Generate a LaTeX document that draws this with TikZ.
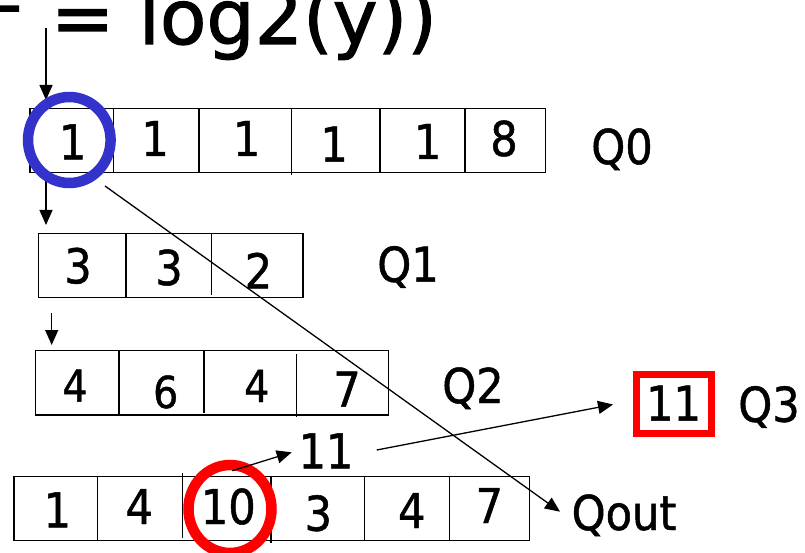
\documentclass[tikz,border=0pt]{standalone}
\usepackage{fontspec}
\setmainfont{DejaVu Sans Condensed}[FakeBold=1]
\newfontfamily\titlefont{DejaVu Sans}[FakeBold=1.5]
\usetikzlibrary{arrows.meta}
\definecolor{ringblue}{RGB}{51,51,204}
\definecolor{ringred}{RGB}{255,0,0}
\begin{document}
\begin{tikzpicture}[x=1pt,y=-1pt,
  val/.style={anchor=base, inner sep=0pt, font=\fontsize{48}{56}\selectfont},
  smallval/.style={val, font=\fontsize{44}{52}\selectfont},
  qlabel/.style={anchor=base, inner sep=0pt, font=\fontsize{48}{56}\selectfont},
  headline/.style={anchor=base west, inner sep=0pt, font=\titlefont\fontsize{76}{82}\selectfont},
  frame/.style={line width=1.5pt},
  ptr/.style={line width=1.3pt, -{Triangle[length=15pt,width=13pt]}},
  ring/.style={line width=10.5pt},
  hilitebox/.style={line width=7pt, draw=ringred}
]
\useasboundingbox (0,0) rectangle (805,553);
\clip (0,0) rectangle (805,553);

% heading, partly above the top edge
\node[headline] (dash) at (-16,29.5) {–};
\node[headline] (eq) at (50.6,44) {=};
\node[headline] (expr) at (138.6,44) {log2(y))};

% Q0
\draw[frame] (30,108.3) rectangle (545.7,172.3);
\draw[frame] (113.3,108.3) -- (113.3,172.3);
\draw[frame] (199,108.3) -- (199,172.3);
\draw[frame] (291.7,108.3) -- (291.7,175.5);
\draw[frame] (380,108.3) -- (380,172.3);
\draw[frame] (465,108.3) -- (465,172.3);
\node[val] (a1) at (72.7,159.3) {1};
\node[val] (a2) at (155,156) {1};
\node[val] (a3) at (246.7,156) {1};
\node[val] (a4) at (334,161.7) {1};
\node[val] (a5) at (427.7,159) {1};
\node[val] (a6) at (504,156) {8};
\node[qlabel] (q0) at (622,164) {Q0};

% Q1
\draw[frame] (38.3,233.3) rectangle (303,297.7);
\draw[frame] (126,233.3) -- (126,297.7);
\draw[frame] (211.7,233.3) -- (211.7,295);
\node[val] (b1) at (78,283.3) {3};
\node[val] (b2) at (169,285) {3};
\node[val] (b3) at (258.5,288.3) {2};
\node[qlabel] (q1) at (408,281.7) {Q1};

% Q2
\draw[frame] (35.7,350.7) rectangle (388.3,415);
\draw[frame] (119,350.7) -- (119,415);
\draw[frame] (204,350.7) -- (204,412.7);
\draw[frame] (296.7,354) -- (296.7,417);
\node[smallval] (c1) at (75,401.7) {4};
\node[smallval] (c2) at (165.7,408) {6};
\node[smallval] (c3) at (256.7,402) {4};
\node[val] (c4) at (347,406.7) {7};
\node[qlabel] (q2) at (473,403) {Q2};

% output row
\draw[frame] (14,476.5) rectangle (529.3,540.3);
\draw[frame] (97.3,476.5) -- (97.3,540.3);
\draw[frame] (182.7,473) -- (182.7,538);
\draw[frame] (271,476.5) -- (271,543);
\draw[frame] (364.3,476.5) -- (364.3,540.3);
\draw[frame] (449.3,476.5) -- (449.3,540.3);
\node[val] (d1) at (57.3,527.3) {1};
\node[val] (d2) at (139.3,524) {4};
\node[val] (d3) at (228.3,524) {10};
\node[val] (d4) at (318.3,530.7) {3};
\node[val] (d5) at (411.7,528) {4};
\node[val] (d6) at (489.3,523) {7};

% merged value and Q3
\node[val] (sum) at (326,468.3) {11};
\draw[hilitebox] (636.5,374.5) rectangle (711.5,433.5);
\node[val] (e1) at (673.5,420.7) {11};
\node[qlabel] (q3) at (769,421.7) {Q3};
\node[qlabel] (qout) at (624,530) {Qout};

% pointers
\coordinate (p0) at (46,28);
\coordinate (p1) at (46,100);
\coordinate (p2) at (46,172.3);
\coordinate (p3) at (46,225);
\coordinate (p4) at (51.7,313);
\coordinate (p5) at (51.7,345);
\coordinate (s0) at (105,186);
\coordinate (s1) at (560,511.7);
\coordinate (m0) at (232.3,470.7);
\coordinate (m1) at (291.7,452.3);
\coordinate (n0) at (376.7,450);
\coordinate (n1) at (613,404.5);
\draw[ptr] (p0) -- (p1);
\draw[ptr] (p2) -- (p3);
\draw[ptr] (p4) -- (p5);
\draw[ptr] (s0) -- (s1);
\draw[ptr] (n0) -- (n1);

% highlight rings
\draw[ring, ringblue] (69.3,140) ellipse [x radius=41.3pt, y radius=43pt];
\draw[ring, ringred] (230,509) ellipse [x radius=41.5pt, y radius=44pt];
\draw[ptr] (m0) -- (m1);
\end{tikzpicture}
\end{document}
